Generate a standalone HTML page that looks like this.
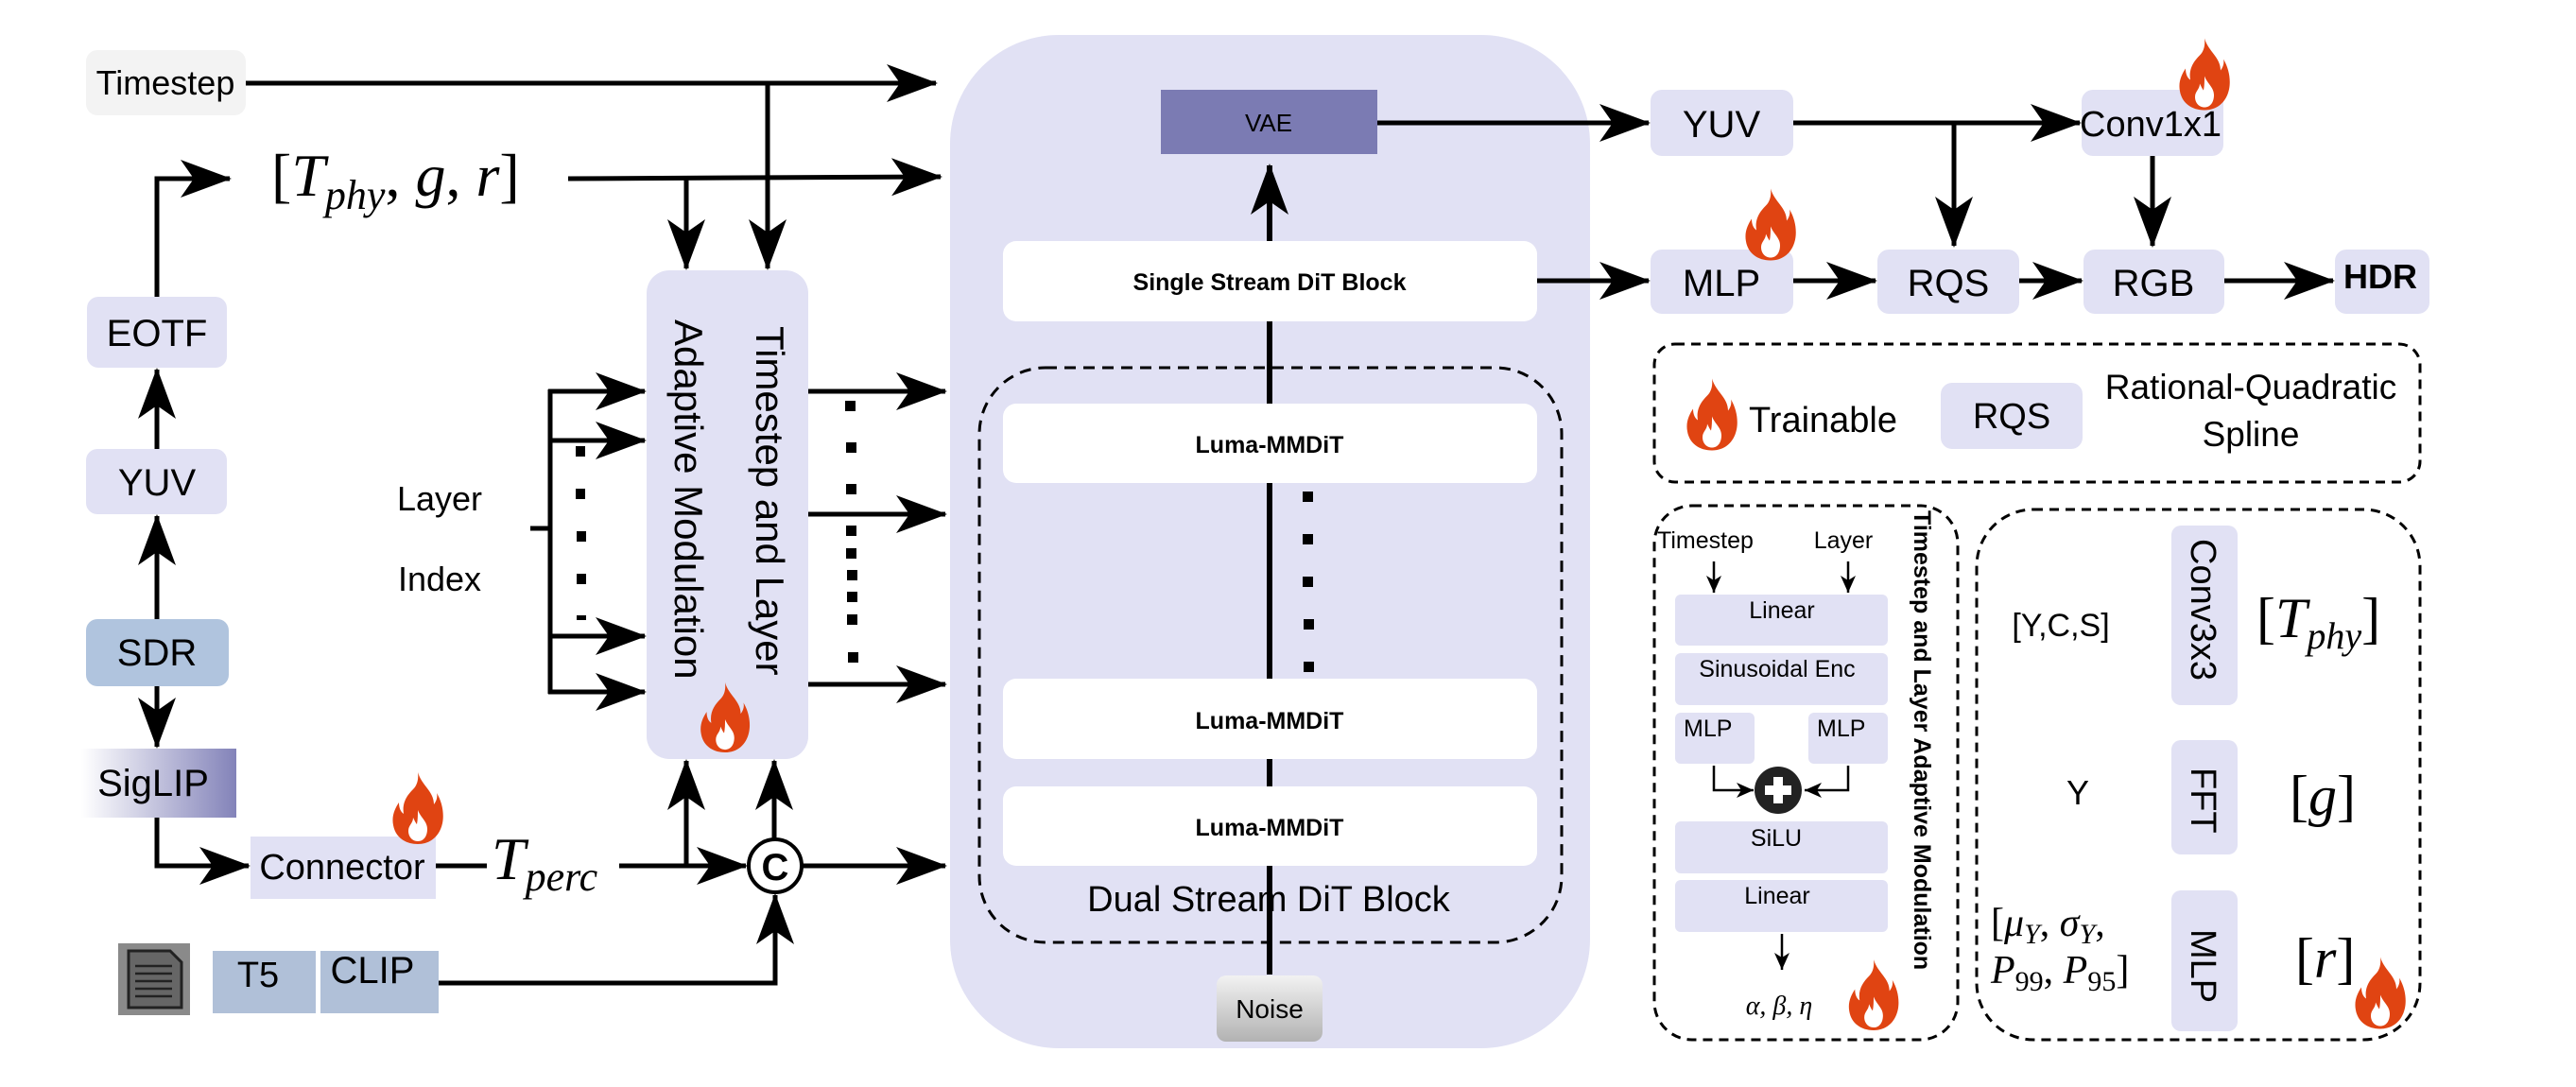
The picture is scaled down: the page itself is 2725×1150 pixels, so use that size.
<!DOCTYPE html>
<html><head><meta charset="utf-8"><style>
html,body{margin:0;padding:0;background:#fff;}
svg{display:block;}
text{font-family:"Liberation Sans",sans-serif;fill:#000;}
.m{font-family:"Liberation Serif",serif;font-style:italic;}
.ms{font-family:"Liberation Serif",serif;}
</style></head><body>
<svg width="2725" height="1150" viewBox="0 0 2725 1150" xmlns="http://www.w3.org/2000/svg">
<defs>
<marker id="ah" markerUnits="userSpaceOnUse" markerWidth="64" markerHeight="50" refX="52" refY="22" orient="auto">
<path d="M0,2 L54,22 L0,42 L14,22 Z" fill="#000"/>
</marker>
<marker id="sa" markerUnits="userSpaceOnUse" markerWidth="24" markerHeight="20" refX="18" refY="8" orient="auto">
<path d="M0,0 L18,8 L0,16 L5,8 Z" fill="#000"/>
</marker>
<linearGradient id="sig" x1="0" x2="1" y1="0" y2="0"><stop offset="0" stop-color="#ffffff"/><stop offset="1" stop-color="#8383b9"/></linearGradient>
<linearGradient id="noi" x1="0" x2="0" y1="0" y2="1"><stop offset="0" stop-color="#f2f2f2"/><stop offset="1" stop-color="#b2b2b2"/></linearGradient>
<symbol id="fl" viewBox="0 0 54 76">
<path d="M27,0 C31,14 44,20 44,34 C47,30 48,26 47,22 C53,32 55,44 53,54 C50,68 40,76 27,76 C13,76 3,68 1,56 C-1,46 3,38 7,32 C7,38 9,42 12,44 C10,32 16,24 22,18 C26,14 28,8 27,0 Z" fill="#e04412"/>
<path d="M27,40 C30,48 37,52 37,60 C37,68 33,73 27,73 C21,73 17,68 17,62 C17,56 22,54 22,48 C24,52 25,54 26,55 C27,50 27,45 27,40 Z" fill="#fff"/>
</symbol>
</defs>

<!-- main big box -->
<rect x="1005" y="37" width="677" height="1072" rx="115" fill="#e1e1f4"/>
<rect x="1036" y="389" width="616" height="608" rx="70" fill="none" stroke="#000" stroke-width="3" stroke-dasharray="12,8"/>
<line x1="1343" y1="1031" x2="1343" y2="175" stroke="#000" stroke-width="6" marker-end="url(#ah)"/>
<rect x="1228" y="95" width="229" height="68" fill="#7b7bb3"/>
<text x="1342" y="139" font-size="26" text-anchor="middle" fill="#222">VAE</text>
<rect x="1061" y="255" width="565" height="85" rx="14" fill="#fff"/>
<text x="1343" y="307" font-size="25" font-weight="bold" text-anchor="middle">Single Stream DiT Block</text>
<rect x="1061" y="427" width="565" height="84" rx="14" fill="#fff"/>
<text x="1343" y="479" font-size="25" font-weight="bold" text-anchor="middle">Luma-MMDiT</text>
<rect x="1061" y="718" width="565" height="85" rx="14" fill="#fff"/>
<text x="1343" y="771" font-size="25" font-weight="bold" text-anchor="middle">Luma-MMDiT</text>
<rect x="1061" y="832" width="565" height="84" rx="14" fill="#fff"/>
<text x="1343" y="884" font-size="25" font-weight="bold" text-anchor="middle">Luma-MMDiT</text>
<g fill="#000"><rect x="1378" y="520" width="11" height="11"/><rect x="1378" y="565" width="11" height="11"/><rect x="1378" y="610" width="11" height="11"/><rect x="1379" y="655" width="11" height="11"/><rect x="1379" y="700" width="11" height="11"/></g>
<text x="1342" y="964" font-size="38" text-anchor="middle">Dual Stream DiT Block</text>
<rect x="1287" y="1032" width="112" height="70" rx="10" fill="url(#noi)"/>
<text x="1343" y="1077" font-size="28" text-anchor="middle">Noise</text>

<!-- left side -->
<rect x="91" y="53" width="169" height="69" rx="12" fill="#f3f3f3"/>
<text x="175" y="100" font-size="36" text-anchor="middle" fill="#333">Timestep</text>
<line x1="260" y1="88" x2="990" y2="88" stroke="#000" stroke-width="5" marker-end="url(#ah)"/>
<line x1="812" y1="88" x2="812" y2="284" stroke="#000" stroke-width="5" marker-end="url(#ah)"/>
<text x="287" y="207" class="ms" font-size="64">[<tspan class="m">T</tspan><tspan class="m" font-size="44" dy="14">phy</tspan><tspan dy="-14">, </tspan><tspan class="m">g</tspan>, <tspan class="m">r</tspan>]</text>
<line x1="601" y1="189" x2="995" y2="187" stroke="#000" stroke-width="5" marker-end="url(#ah)"/>
<line x1="726" y1="189" x2="726" y2="284" stroke="#000" stroke-width="5" marker-end="url(#ah)"/>

<rect x="92" y="314" width="148" height="75" rx="12" fill="#e1e1f4"/>
<text x="166" y="366" font-size="40" text-anchor="middle">EOTF</text>
<rect x="91" y="475" width="149" height="69" rx="12" fill="#e1e1f4"/>
<text x="166" y="524" font-size="40" text-anchor="middle">YUV</text>
<rect x="91" y="655" width="151" height="71" rx="12" fill="#b0c4de"/>
<text x="166" y="704" font-size="40" text-anchor="middle">SDR</text>
<rect x="86" y="792" width="164" height="73" fill="url(#sig)"/>
<text x="162" y="842" font-size="40" text-anchor="middle">SigLIP</text>
<polyline points="166,314 166,189 243,189" fill="none" stroke="#000" stroke-width="5" marker-end="url(#ah)"/>
<line x1="166" y1="475" x2="166" y2="391" stroke="#000" stroke-width="5" marker-end="url(#ah)"/>
<line x1="166" y1="655" x2="166" y2="546" stroke="#000" stroke-width="5" marker-end="url(#ah)"/>
<line x1="166" y1="726" x2="166" y2="790" stroke="#000" stroke-width="5" marker-end="url(#ah)"/>
<polyline points="166,865 166,916 263,916" fill="none" stroke="#000" stroke-width="5" marker-end="url(#ah)"/>

<rect x="265" y="885" width="196" height="66" fill="#e1e1f4"/>
<text x="362" y="930" font-size="38" text-anchor="middle">Connector</text>
<use href="#fl" x="415" y="817" width="54" height="76"/>
<line x1="461" y1="916" x2="789" y2="916" stroke="#000" stroke-width="5" marker-end="url(#ah)"/>
<rect x="515" y="878" width="140" height="74" fill="#fff"/>
<text x="520" y="930" class="m" font-size="64">T<tspan font-size="44" dy="12">perc</tspan></text>
<line x1="726" y1="916" x2="726" y2="805" stroke="#000" stroke-width="5" marker-end="url(#ah)"/>
<line x1="819" y1="887" x2="819" y2="805" stroke="#000" stroke-width="5" marker-end="url(#ah)"/>
<circle cx="820" cy="916" r="28" fill="#fff" stroke="#000" stroke-width="4"/>
<text x="820" y="931" font-size="40" font-weight="bold" text-anchor="middle">C</text>
<line x1="848" y1="916" x2="1000" y2="916" stroke="#000" stroke-width="5" marker-end="url(#ah)"/>

<rect x="125" y="998" width="76" height="76" fill="#8a8a8a"/>
<path d="M136,1006 L180,1006 L192,1018 L192,1066 L136,1066 Z" fill="#666" stroke="#222" stroke-width="3"/>
<g stroke="#222" stroke-width="2.5"><line x1="143" y1="1022" x2="182" y2="1022"/><line x1="143" y1="1030" x2="182" y2="1030"/><line x1="143" y1="1038" x2="182" y2="1038"/><line x1="143" y1="1046" x2="182" y2="1046"/><line x1="143" y1="1054" x2="182" y2="1054"/></g>
<rect x="225" y="1006" width="109" height="66" fill="#b0c0d8"/>
<text x="273" y="1044" font-size="38" text-anchor="middle">T5</text>
<rect x="339" y="1006" width="125" height="66" fill="#b0c0d8"/>
<text x="394" y="1040" font-size="40" text-anchor="middle">CLIP</text>
<polyline points="464,1040 820,1040 820,947" fill="none" stroke="#000" stroke-width="5" marker-end="url(#ah)"/>

<!-- layer index -->
<text x="465" y="540" font-size="36" text-anchor="middle">Layer</text>
<text x="465" y="625" font-size="36" text-anchor="middle">Index</text>
<line x1="561" y1="559" x2="584" y2="559" stroke="#000" stroke-width="5"/>
<line x1="582" y1="412" x2="582" y2="734" stroke="#000" stroke-width="5"/>
<g stroke="#000" stroke-width="5">
<line x1="580" y1="414" x2="682" y2="414" marker-end="url(#ah)"/>
<line x1="580" y1="466" x2="682" y2="466" marker-end="url(#ah)"/>
<line x1="580" y1="673" x2="682" y2="673" marker-end="url(#ah)"/>
<line x1="580" y1="732" x2="682" y2="732" marker-end="url(#ah)"/>
</g>
<g fill="#000"><rect x="609" y="472" width="10" height="11"/><rect x="609" y="517" width="10" height="11"/><rect x="610" y="562" width="10" height="11"/><rect x="610" y="607" width="10" height="11"/><rect x="610" y="651" width="10" height="5"/></g>

<rect x="684" y="286" width="171" height="517" rx="24" fill="#e1e1f4"/>
<text transform="translate(800,345) rotate(90)" font-size="42">Timestep and Layer</text>
<text transform="translate(714,338) rotate(90)" font-size="42">Adaptive Modulation</text>
<use href="#fl" x="740" y="722" width="54" height="74"/>
<g stroke="#000" stroke-width="5">
<line x1="855" y1="414" x2="1000" y2="414" marker-end="url(#ah)"/>
<line x1="855" y1="544" x2="1000" y2="544" marker-end="url(#ah)"/>
<line x1="855" y1="724" x2="1000" y2="724" marker-end="url(#ah)"/>
</g>
<g fill="#000"><rect x="894" y="424" width="11" height="11"/><rect x="895" y="468" width="11" height="11"/><rect x="895" y="512" width="11" height="11"/><rect x="895" y="556" width="11" height="11"/><rect x="895" y="580" width="11" height="11"/><rect x="896" y="603" width="11" height="11"/><rect x="896" y="626" width="11" height="11"/><rect x="896" y="650" width="11" height="11"/><rect x="897" y="690" width="11" height="11"/></g>

<!-- right pipeline -->
<line x1="1457" y1="130" x2="1744" y2="130" stroke="#000" stroke-width="5" marker-end="url(#ah)"/>
<line x1="1626" y1="297" x2="1744" y2="297" stroke="#000" stroke-width="5" marker-end="url(#ah)"/>
<rect x="1746" y="95" width="151" height="70" rx="12" fill="#e1e1f4"/>
<text x="1821" y="145" font-size="40" text-anchor="middle">YUV</text>
<rect x="1746" y="264" width="151" height="68" rx="12" fill="#e1e1f4"/>
<text x="1821" y="313" font-size="40" text-anchor="middle">MLP</text>
<use href="#fl" x="1846" y="199" width="54" height="77"/>
<line x1="1897" y1="130" x2="2200" y2="130" stroke="#000" stroke-width="5" marker-end="url(#ah)"/>
<line x1="2067" y1="130" x2="2067" y2="260" stroke="#000" stroke-width="5" marker-end="url(#ah)"/>
<rect x="2202" y="95" width="150" height="70" rx="12" fill="#e1e1f4"/>
<text x="2275" y="144" font-size="38" text-anchor="middle">Conv1x1</text>
<use href="#fl" x="2305" y="40" width="54" height="77"/>
<line x1="2277" y1="165" x2="2277" y2="260" stroke="#000" stroke-width="5" marker-end="url(#ah)"/>
<line x1="1897" y1="297" x2="1984" y2="297" stroke="#000" stroke-width="5" marker-end="url(#ah)"/>
<rect x="1986" y="264" width="150" height="68" rx="12" fill="#e1e1f4"/>
<text x="2061" y="313" font-size="40" text-anchor="middle">RQS</text>
<line x1="2136" y1="297" x2="2202" y2="297" stroke="#000" stroke-width="5" marker-end="url(#ah)"/>
<rect x="2204" y="264" width="149" height="68" rx="12" fill="#e1e1f4"/>
<text x="2278" y="313" font-size="40" text-anchor="middle">RGB</text>
<line x1="2353" y1="297" x2="2468" y2="297" stroke="#000" stroke-width="5" marker-end="url(#ah)"/>
<rect x="2470" y="264" width="100" height="68" rx="12" fill="#e1e1f4"/>
<text x="2518" y="305" font-size="36" font-weight="bold" text-anchor="middle">HDR</text>

<!-- legend -->
<rect x="1750" y="364" width="810" height="146" rx="22" fill="none" stroke="#000" stroke-width="3" stroke-dasharray="10,7"/>
<use href="#fl" x="1784" y="400" width="54" height="77"/>
<text x="1850" y="457" font-size="38">Trainable</text>
<rect x="2053" y="405" width="150" height="70" rx="12" fill="#e1e1f4"/>
<text x="2128" y="453" font-size="38" text-anchor="middle">RQS</text>
<text x="2381" y="422" font-size="37" text-anchor="middle">Rational-Quadratic</text>
<text x="2381" y="472" font-size="37" text-anchor="middle">Spline</text>

<!-- modulation detail -->
<rect x="1750" y="535" width="321" height="565" rx="40" fill="none" stroke="#000" stroke-width="3" stroke-dasharray="10,7"/>
<text x="1753" y="580" font-size="25">Timestep</text>
<text x="1950" y="580" font-size="25" text-anchor="middle">Layer</text>
<line x1="1813" y1="594" x2="1813" y2="627" stroke="#000" stroke-width="2.5" marker-end="url(#sa)"/>
<line x1="1955" y1="594" x2="1955" y2="627" stroke="#000" stroke-width="2.5" marker-end="url(#sa)"/>
<rect x="1772" y="629" width="225" height="54" rx="6" fill="#e1e1f4"/>
<text x="1885" y="654" font-size="25" text-anchor="middle">Linear</text>
<rect x="1772" y="691" width="225" height="55" rx="6" fill="#e1e1f4"/>
<text x="1880" y="716" font-size="25" text-anchor="middle">Sinusoidal Enc</text>
<rect x="1772" y="754" width="84" height="54" rx="6" fill="#e1e1f4"/>
<text x="1781" y="779" font-size="25">MLP</text>
<rect x="1913" y="754" width="84" height="54" rx="6" fill="#e1e1f4"/>
<text x="1922" y="779" font-size="25">MLP</text>
<polyline points="1813,810 1813,836 1855,836" fill="none" stroke="#000" stroke-width="2.5" marker-end="url(#sa)"/>
<polyline points="1955,810 1955,836 1909,836" fill="none" stroke="#000" stroke-width="2.5" marker-end="url(#sa)"/>
<circle cx="1881" cy="836" r="25" fill="#222"/>
<rect x="1867" y="831" width="28" height="10" fill="#fff"/><rect x="1876" y="822" width="10" height="28" fill="#fff"/>
<rect x="1772" y="869" width="225" height="55" rx="6" fill="#e1e1f4"/>
<text x="1879" y="895" font-size="25" text-anchor="middle">SiLU</text>
<rect x="1772" y="931" width="225" height="55" rx="6" fill="#e1e1f4"/>
<text x="1880" y="956" font-size="25" text-anchor="middle">Linear</text>
<line x1="1885" y1="988" x2="1885" y2="1026" stroke="#000" stroke-width="2.5" marker-end="url(#sa)"/>
<text x="1882" y="1073" class="m" font-size="28" text-anchor="middle">α, β, η</text>
<use href="#fl" x="1955" y="1015" width="54" height="75"/>
<text transform="translate(2025,540) rotate(90)" font-size="25" font-weight="bold">Timestep and Layer Adaptive Modulation</text>

<!-- feature detail -->
<rect x="2091" y="539" width="469" height="561" rx="60" fill="none" stroke="#000" stroke-width="3" stroke-dasharray="10,7"/>
<text x="2180" y="673" font-size="34" text-anchor="middle">[Y,C,S]</text>
<rect x="2297" y="556" width="70" height="190" rx="10" fill="#e1e1f4"/>
<text transform="translate(2318,570) rotate(90)" font-size="38">Conv3x3</text>
<text x="2387" y="674" class="ms" font-size="60">[<tspan class="m">T</tspan><tspan class="m" font-size="40" dy="12">phy</tspan><tspan dy="-12">]</tspan></text>
<text x="2198" y="851" font-size="36" text-anchor="middle">Y</text>
<rect x="2297" y="783" width="70" height="121" rx="10" fill="#e1e1f4"/>
<text transform="translate(2318,812) rotate(90)" font-size="38">FFT</text>
<text x="2422" y="862" class="ms" font-size="60">[<tspan class="m">g</tspan>]</text>
<text x="2106" y="990" class="ms" font-size="42">[<tspan class="m">μ</tspan><tspan class="m" font-size="30" dy="8">Y</tspan><tspan dy="-8">, </tspan><tspan class="m">σ</tspan><tspan class="m" font-size="30" dy="8">Y</tspan><tspan dy="-8">,</tspan></text>
<text x="2106" y="1040" class="ms" font-size="42"><tspan class="m">P</tspan><tspan font-size="30" dy="8">99</tspan><tspan dy="-8">, </tspan><tspan class="m">P</tspan><tspan font-size="30" dy="8">95</tspan><tspan dy="-8">]</tspan></text>
<rect x="2297" y="942" width="70" height="149" rx="10" fill="#e1e1f4"/>
<text transform="translate(2318,983) rotate(90)" font-size="38">MLP</text>
<text x="2428" y="1034" class="ms" font-size="60">[<tspan class="m">r</tspan>]</text>
<use href="#fl" x="2491" y="1012" width="54" height="77"/>
</svg>
</body></html>
